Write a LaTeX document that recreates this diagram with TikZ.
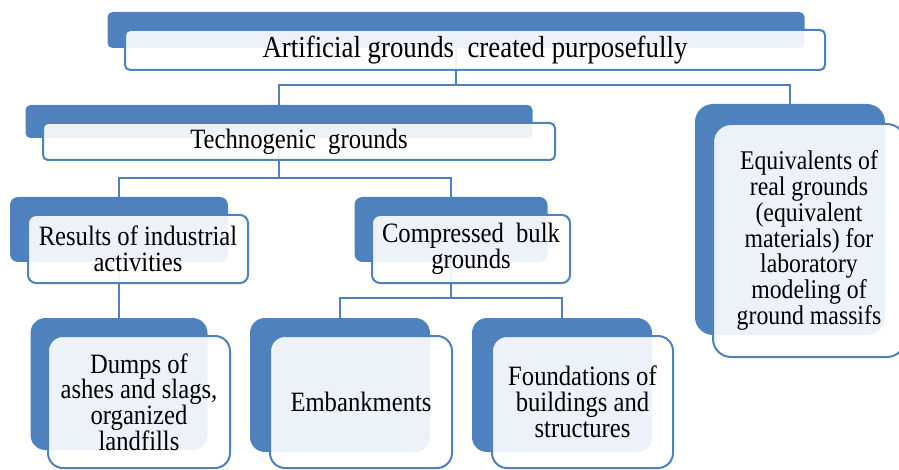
\documentclass[tikz,border=0pt]{standalone}
\usepackage{fontspec}
\setmainfont{Liberation Serif}[FakeStretch=0.88]
\definecolor{sblue}{HTML}{4F81BD}
\begin{document}
\begin{tikzpicture}[x=1pt,y=-1pt,
  backbox/.style={fill=sblue, draw=none, rounded corners=#1, inner sep=0pt, outer sep=0pt},
  backbox/.default=5pt,
  frontbox/.style={draw=sblue, line width=2pt, fill=white, fill opacity=0.9, text opacity=1,
     rounded corners=#1, inner sep=0pt, outer sep=0pt, align=center,
     font=\fontsize{28}{25.8}\selectfont},
  frontbox/.default=5pt,
  conn/.style={draw=sblue, line width=2pt}]
\useasboundingbox (0,0) rectangle (899,470);
% back shapes
\node[backbox, minimum width=697pt, minimum height=36pt] (topb) at (456,30) {};
\node[backbox, minimum width=507pt, minimum height=33pt] (techb) at (279,121.5) {};
\node[backbox=8pt, minimum width=218pt, minimum height=65pt] (resb) at (119,229.5) {};
\node[backbox=8pt, minimum width=193pt, minimum height=65pt] (compb) at (451,229.5) {};
\node[backbox=15pt, minimum width=177pt, minimum height=132pt] (dumpsb) at (119,384) {};
\node[backbox=15pt, minimum width=180pt, minimum height=134pt] (embb) at (340,385) {};
\node[backbox=15pt, minimum width=180pt, minimum height=134pt] (foundb) at (562,385) {};
\node[backbox=18pt, minimum width=190pt, minimum height=231pt] (eqb) at (790,219.5) {};
% connectors
\draw[conn] (topb.south) -- ++(0,37) -| (techb.north);
\draw[conn] (topb.south) -- ++(0,37) -| (eqb.north);
\draw[conn] (techb.south) -- ++(0,40) -| (resb.north);
\draw[conn] (techb.south) -- ++(0,40) -| (compb.north);
\draw[conn] (resb.south) -- (dumpsb.north);
\draw[conn] (compb.south) -- ++(0,36) -| (embb.north);
\draw[conn] (compb.south) -- ++(0,36) -| (foundb.north);
% front shapes
\node[frontbox, minimum width=700pt, minimum height=40pt, font=\fontsize{30.5}{28}\selectfont] (top) at (475,50) {Artificial grounds\ \ created purposefully};
\node[frontbox, minimum width=512pt, minimum height=37pt] (tech) at (299,141.5) {\raisebox{-2pt}{Technogenic\ \ grounds}};
\node[frontbox=8pt, minimum width=220pt, minimum height=68pt] (res) at (138,249) {Results of industrial\\activities};
\node[frontbox=8pt, minimum width=198pt, minimum height=68pt] (comp) at (471,249) {Compressed\ \ bulk\\grounds};
\node[frontbox=15pt, minimum width=182pt, minimum height=132pt] (dumps) at (139,402) {Dumps of\\ashes and slags,\\organized\\landfills};
\node[frontbox=15pt, minimum width=182pt, minimum height=132pt] (emb) at (361,402) {Embankments};
\node[frontbox=15pt, minimum width=181pt, minimum height=132pt] (found) at (582.5,402) {Foundations of\\buildings and\\structures};
\node[frontbox=18pt, minimum width=192pt, minimum height=233pt, font=\fontsize{27}{25.8}\selectfont] (eq) at (809,240.5) {Equivalents of\\real grounds\\(equivalent\\materials) for\\laboratory\\modeling of\\ground massifs};
\end{tikzpicture}
\end{document}
